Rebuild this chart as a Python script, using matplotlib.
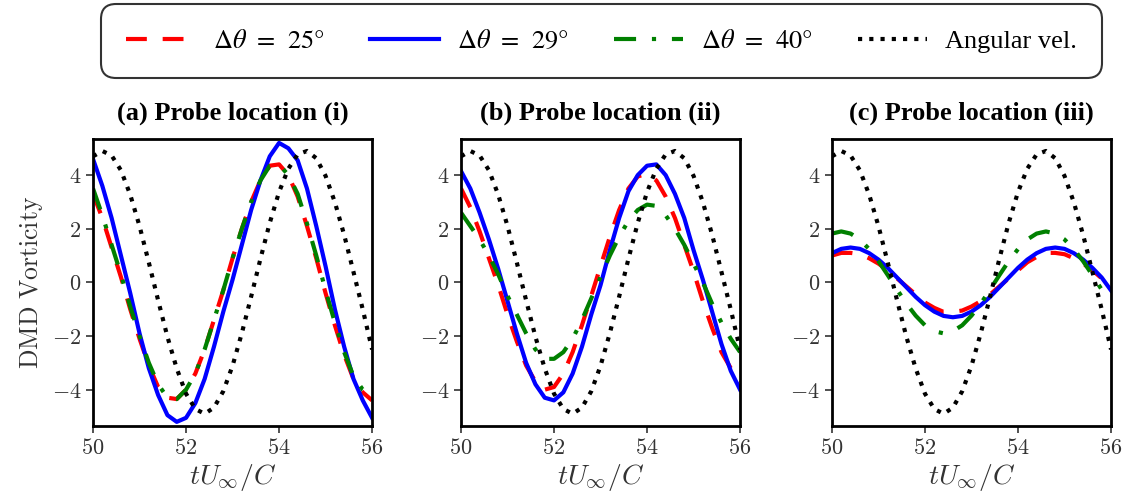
import numpy as np
import matplotlib
matplotlib.use('Agg')
import matplotlib.pyplot as plt
from matplotlib.font_manager import FontProperties

t = [50.0, 50.2, 50.4, 50.6, 50.8, 51.0, 51.2, 51.4, 51.6, 51.8,
     52.0, 52.2, 52.4, 52.6, 52.8, 53.0, 53.2, 53.4, 53.6, 53.8,
     54.0, 54.2, 54.4, 54.6, 54.8, 55.0, 55.2, 55.4, 55.6, 55.8, 56.0]

# angular velocity (same in every panel)
ang_vel = [4.70, 4.90, 4.73, 4.18, 3.27, 2.10, 0.74, -0.67, -2.03, -3.21,
           -4.15, -4.72, -4.90, -4.67, -4.06, -3.11, -1.89, -0.53, 0.88, 2.22,
           3.37, 4.24, 4.77, 4.90, 4.63, 3.97, 2.99, 1.77, 0.39, -1.01, -2.50]

# (a) probe location (i)
a_25 = [3.3, 2.4, 1.3, 0.2, -1.0, -2.1, -3.1, -3.9, -4.3, -4.35,
        -4.0, -3.4, -2.5, -1.4, -0.3, 0.9, 2.0, 3.0, 3.8, 4.35,
        4.4, 4.0, 3.2, 2.1, 0.9, -0.4, -1.6, -2.7, -3.6, -4.1, -4.4]
a_29 = [4.6, 3.6, 2.4, 1.0, -0.4, -1.9, -3.2, -4.2, -4.95, -5.2,
        -5.05, -4.5, -3.6, -2.4, -1.1, 0.1, 1.4, 2.7, 3.8, 4.7,
        5.2, 5.0, 4.55, 3.5, 2.1, 0.6, -1.0, -2.4, -3.6, -4.4, -5.05]
a_40 = [3.5, 2.5, 1.4, 0.3, -0.9, -2.0, -3.0, -3.8, -4.3, -4.35,
        -4.0, -3.4, -2.5, -1.4, -0.3, 0.9, 2.0, 3.0, 3.8, 4.35,
        4.4, 4.0, 3.3, 2.2, 1.0, -0.3, -1.5, -2.6, -3.5, -4.0, -4.2]

# (b) probe location (ii)
b_25 = [3.5, 2.8, 1.9, 0.9, -0.1, -1.2, -2.2, -3.1, -3.7, -4.0,
        -3.9, -3.4, -2.6, -1.6, -0.5, 0.6, 1.7, 2.7, 3.5, 3.95,
        4.05, 3.8, 3.2, 2.4, 1.4, 0.4, -0.7, -1.7, -2.6, -3.2, -3.7]
b_29 = [4.15, 3.5, 2.6, 1.6, 0.5, -0.7, -1.9, -3.0, -3.8, -4.3,
        -4.4, -4.1, -3.4, -2.4, -1.2, -0.1, 1.2, 2.4, 3.4, 4.0,
        4.35, 4.4, 4.0, 3.3, 2.4, 1.2, 0.1, -1.1, -2.3, -3.3, -4.0]
b_40 = [2.6, 2.1, 1.6, 1.0, 0.3, -0.5, -1.2, -1.9, -2.5, -2.85,
        -2.85, -2.6, -2.1, -1.4, -0.6, 0.2, 1.0, 1.7, 2.3, 2.7,
        2.9, 2.85, 2.5, 2.0, 1.4, 0.7, 0.0, -0.8, -1.5, -2.1, -2.6]

# (c) probe location (iii)
c_25 = [1.0, 1.1, 1.1, 1.05, 0.9, 0.7, 0.45, 0.15, -0.15, -0.45,
        -0.75, -0.95, -1.1, -1.1, -1.05, -0.9, -0.7, -0.45, -0.15, 0.15,
        0.45, 0.75, 0.95, 1.1, 1.1, 1.05, 0.9, 0.7, 0.45, 0.15, -0.2]
c_29 = [1.09, 1.25, 1.3, 1.25, 1.09, 0.85, 0.54, 0.18, -0.18, -0.54,
        -0.85, -1.09, -1.25, -1.3, -1.25, -1.09, -0.85, -0.54, -0.18, 0.18,
        0.54, 0.85, 1.09, 1.25, 1.3, 1.25, 1.09, 0.85, 0.54, 0.18, -0.3]
c_40 = [1.82, 1.9, 1.82, 1.6, 1.24, 0.79, 0.27, -0.27, -0.79, -1.24,
        -1.6, -1.82, -1.9, -1.82, -1.6, -1.24, -0.79, -0.27, 0.27, 0.79,
        1.24, 1.6, 1.82, 1.9, 1.82, 1.6, 1.24, 0.79, 0.27, -0.27, -0.65]

titles = ['(a) Probe location (i)', '(b) Probe location (ii)', '(c) Probe location (iii)']
legend_labels = [r'$\Delta\theta\;\,=\;\,25°$', r'$\Delta\theta\;\,=\;\,29°$',
                 r'$\Delta\theta\;\,=\;\,40°$', 'Angular vel.']
xticks = [50, 52, 54, 56]
yticks = [-4, -2, 0, 2, 4]
series = [(a_25, a_29, a_40), (b_25, b_29, b_40), (c_25, c_29, c_40)]

plt.rcParams['mathtext.fontset'] = 'cm'

fig = plt.figure(figsize=(11.33, 5.04), dpi=100)
lefts = [0.0821, 0.4069, 0.7343]
axes = [fig.add_axes([l, 0.155, 0.2463, 0.5694]) for l in lefts]

LW = 3.0
for ax, title, (s25, s29, s40) in zip(axes, titles, series):
    l1, = ax.plot(t, s25, color='red', ls=(0, (5, 3.8)), lw=LW)
    l2, = ax.plot(t, s29, color='blue', ls='-', lw=LW)
    l3, = ax.plot(t, s40, color='green', ls=(0, (5.3, 3.8, 1, 3.8)), lw=LW)
    l4, = ax.plot(t, ang_vel, color='black', ls=(0, (1, 1.7)), lw=LW)

    ax.set_xlim(50, 56)
    ax.set_ylim(-5.35, 5.35)
    ax.set_xticks(xticks)
    ax.set_xticklabels([f'${v}$' for v in xticks])
    ax.set_yticks(yticks)
    ax.set_yticklabels([f'${v}$' for v in yticks])
    ax.tick_params(labelsize=16, length=5, width=1.2, colors='#333333', labelcolor='#333333')
    for sp in ax.spines.values():
        sp.set_linewidth(2)
    ax.set_xlabel(r'$tU_\infty/C$', fontsize=20, color='#333333', labelpad=3)
    ax.set_title(title, fontsize=19, fontweight='bold', family='Liberation Serif', pad=14)

axes[0].set_ylabel(r'$\mathrm{DMD\ Vorticity}$', fontsize=18.5, color='#333333', labelpad=5)

leg_font = FontProperties(family='Liberation Serif', size=19, math_fontfamily='stix')
leg = fig.legend([l1, l2, l3, l4], legend_labels,
                 loc='lower left', bbox_to_anchor=(101 / 1133, 1 - 78 / 504, 1001 / 1133, 75 / 504),
                 mode='expand', ncol=4, prop=leg_font, handlelength=2.6, handletextpad=0.7,
                 frameon=True, fancybox=True, edgecolor='black', borderaxespad=0, borderpad=0.95)
leg.get_frame().set_linewidth(1.5)
leg.get_frame().set_boxstyle('round', pad=0.0, rounding_size=0.55)

fig.savefig('out.png', dpi=100)
